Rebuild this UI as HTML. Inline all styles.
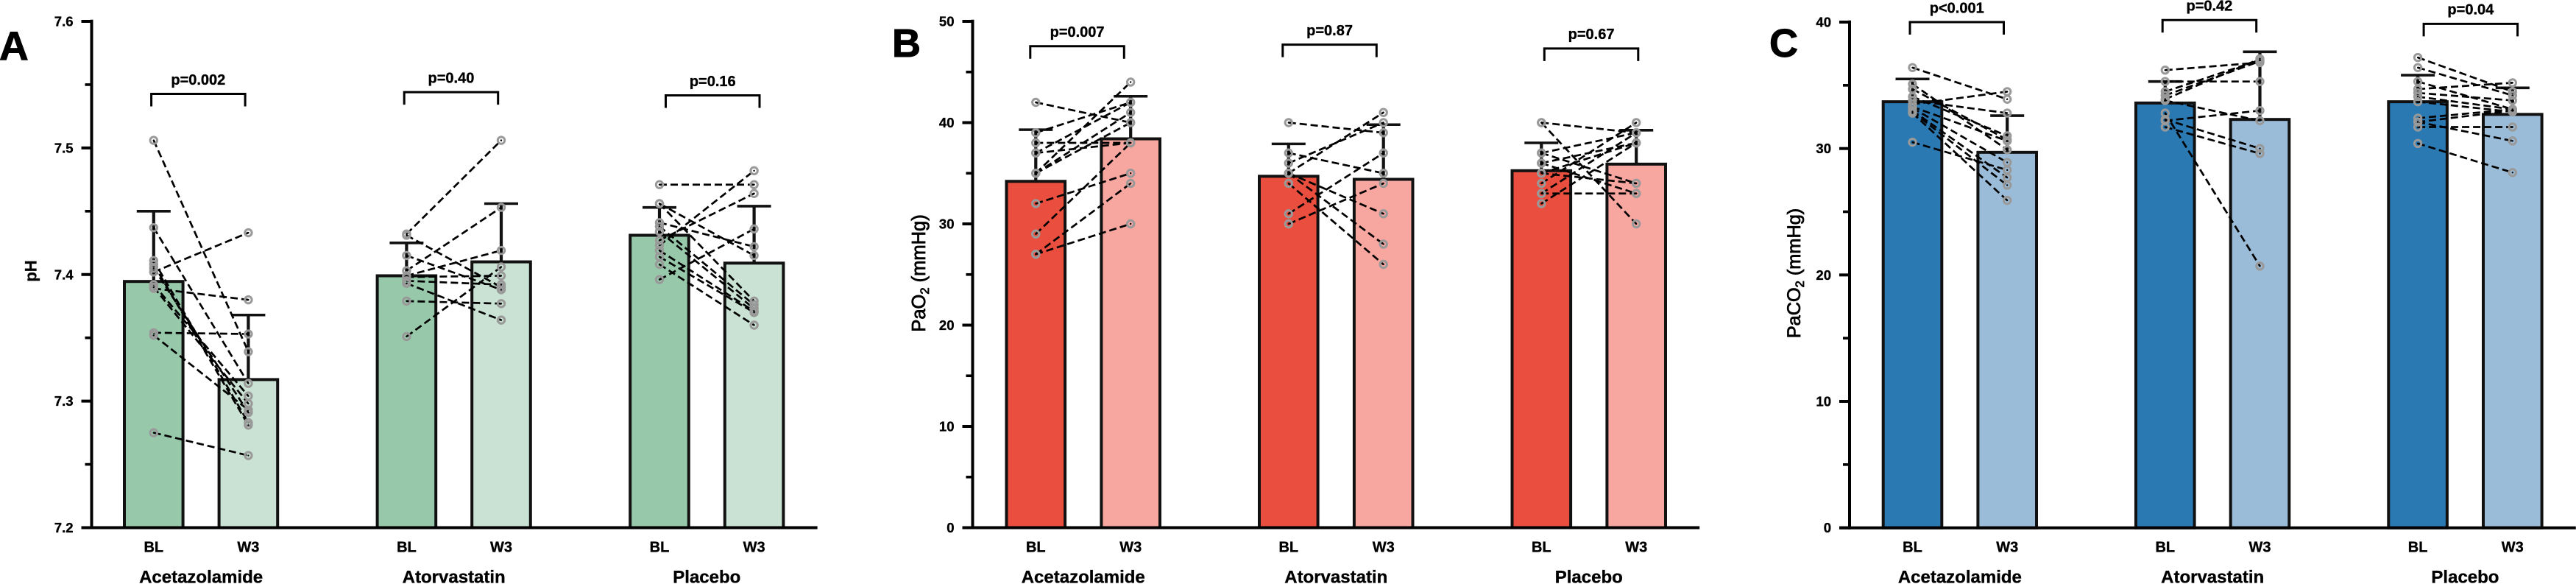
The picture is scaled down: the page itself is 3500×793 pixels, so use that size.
<!DOCTYPE html>
<html lang="en">
<head>
<meta charset="utf-8">
<title>pH, PaO2 and PaCO2 by treatment group</title>
<style>
html,body{margin:0;padding:0;background:#fff;}
body{width:3500px;height:793px;overflow:hidden;}
svg{display:block;font-family:"Liberation Sans",Arial,sans-serif;}
</style>
</head>
<body>
<svg id="figure" width="3500" height="793" viewBox="0 0 3500 793" xmlns="http://www.w3.org/2000/svg">
  <rect width="3500" height="793" fill="#fff"/>
  <text x="-1" y="81" font-size="55" font-weight="700" stroke="#000" stroke-width="1">A</text>
  <text x="1212" y="77" font-size="54" font-weight="700" stroke="#000" stroke-width="1">B</text>
  <text x="2404" y="77" font-size="54" font-weight="700" stroke="#000" stroke-width="1">C</text>
  <text transform="translate(49.5 368) rotate(-90)" text-anchor="middle" font-size="22" font-weight="700" stroke="#000" stroke-width="0.3">pH</text>
  <text transform="translate(1257 371) rotate(-90)" text-anchor="middle" font-size="25.5" stroke="#000" stroke-width="0.8">PaO<tspan font-size="16.5" dy="5">2</tspan><tspan dy="-5"> (mmHg)</tspan></text>
  <text transform="translate(2446 371) rotate(-90)" text-anchor="middle" font-size="25.3" stroke="#000" stroke-width="0.8">PaCO<tspan font-size="16.5" dy="5">2</tspan><tspan dy="-5"> (mmHg)</tspan></text>
</svg>
<script>
// ---------- shared categories ----------
const categories = ['Acetazolamide', 'Atorvastatin', 'Placebo'];
const timepoints = ['BL', 'W3'];

// ---------- Panel A: pH ----------
const phMajorTicks = [7.2, 7.3, 7.4, 7.5, 7.6];
const phMinorTicks = [7.25, 7.35, 7.45, 7.55];
const phMeansBL = [7.3945, 7.399, 7.431];
const phMeansW3 = [7.317, 7.41, 7.409];
const phSdBL = [0.0555, 0.026, 0.022];
const phSdW3 = [0.051, 0.046, 0.045];
const phPValues = ['p=0.002', 'p=0.40', 'p=0.16'];
const phBracketLevels = [7.5427, 7.5441, 7.5415];
const phAcetBL = [7.506, 7.437, 7.402, 7.389, 7.354, 7.352, 7.275, 7.411, 7.408, 7.405, 7.392, 7.390];
const phAcetW3 = [7.339, 7.314, 7.433, 7.380, 7.353, 7.293, 7.257, 7.283, 7.281, 7.291, 7.304, 7.298];
const phAtorBL = [7.432, 7.431, 7.415, 7.403, 7.399, 7.398, 7.395, 7.393, 7.379, 7.351];
const phAtorW3 = [7.506, 7.390, 7.388, 7.453, 7.419, 7.399, 7.392, 7.364, 7.377, 7.406];
const phPlacBL = [7.471, 7.396, 7.423, 7.427, 7.456, 7.441, 7.456, 7.438, 7.434, 7.419, 7.414, 7.408];
const phPlacW3 = [7.471, 7.436, 7.482, 7.464, 7.415, 7.422, 7.379, 7.376, 7.373, 7.371, 7.370, 7.360];

// ---------- Panel B: PaO2 ----------
const paoMajorTicks = [0, 10, 20, 30, 40, 50];
const paoMinorTicks = [5, 15, 25, 35, 45];
const paoMeansBL = [34.2, 34.7, 35.25];
const paoMeansW3 = [38.4, 34.4, 35.9];
const paoSdBL = [5.1, 3.2, 2.75];
const paoSdW3 = [4.2, 5.4, 3.35];
const paoPValues = ['p=0.007', 'p=0.87', 'p=0.67'];
const paoBracketLevels = [47.55, 47.7, 47.32];
const paoAcetBL = [42, 39, 38, 37, 37, 35, 35, 35, 32, 29, 27, 27];
const paoAcetW3 = [40, 42, 38, 42, 38, 44, 41, 40, 35, 38, 34, 30];
const paoAtorBL = [40, 37, 36, 35, 35, 35, 34, 31, 30];
const paoAtorW3 = [39, 35, 40, 41, 31, 28, 26, 37, 34];
const paoPlacBL = [40, 40, 37, 37, 36, 36, 35, 35, 34, 33, 33, 32];
const paoPlacW3 = [39, 30, 34, 39, 33, 38, 38, 34, 40, 39, 33, 38];

// ---------- Panel C: PaCO2 ----------
const pacoMajorTicks = [0, 10, 20, 30, 40];
const pacoMinorTicks = [5, 15, 25, 35];
const pacoMeansBL = [33.7, 33.6, 33.7];
const pacoMeansW3 = [29.7, 32.3, 32.7];
const pacoSdBL = [1.8, 1.7, 2.1];
const pacoSdW3 = [2.9, 5.35, 2.1];
const pacoPValues = ['p<0.001', 'p=0.42', 'p=0.04'];
const pacoBracketLevels = [40, 40.16, 39.86];
const pacoAcetBL = [36.4, 35.1, 34.7, 34.1, 33.8, 33.5, 33.3, 33.2, 33.0, 32.9, 32.8, 30.5];
const pacoAcetW3 = [33.9, 29.9, 30.7, 31.0, 32.8, 34.5, 30.6, 28.9, 27.7, 27.1, 25.9, 28.3];
const pacoAtorBL = [36.2, 35.3, 34.5, 34.2, 33.9, 33.8, 32.8, 32.3, 32.2, 31.7];
const pacoAtorW3 = [36.8, 35.3, 37.0, 36.9, 37.1, 32.2, 20.7, 30.0, 33.0, 29.6];
const pacoPlacBL = [37.2, 36.4, 35.3, 34.7, 34.4, 34.1, 33.7, 32.4, 32.1, 31.7, 32.1, 30.4];
const pacoPlacW3 = [34.5, 34.2, 33.1, 35.2, 33.8, 33.1, 32.9, 33.1, 33.0, 31.7, 30.6, 28.1];

const SVG_NS = 'http://www.w3.org/2000/svg';
const figure = document.getElementById('figure');

function create(parent, tag, attrs, text) {
  const el = document.createElementNS(SVG_NS, tag);
  for (const key in attrs) el.setAttribute(key, attrs[key]);
  if (text !== undefined) el.textContent = text;
  parent.appendChild(el);
  return el;
}

function drawPanel(cfg) {
  const yScale = function (v) {
    return cfg.plotBottom - (v - cfg.domainMin) / (cfg.domainMax - cfg.domainMin) * (cfg.plotBottom - cfg.plotTop);
  };
  const xScale = function (group, time) {
    return cfg.firstColumn + group * cfg.groupStep + time * cfg.pairStep;
  };
  const axisEnd = xScale(categories.length - 1, 1) + 86;

  const panel = create(figure, 'g', {});
  
  

  // bars
  categories.forEach(function (cat, g) {
    timepoints.forEach(function (tp, t) {
      const mean = (t === 0 ? cfg.meansBL : cfg.meansW3)[g];
      const cx = xScale(g, t);
      const top = yScale(mean);
      const bar = create(panel, 'rect', {
        x: cx - 39.8, y: top, width: 79.6, height: cfg.plotBottom - top,
        fill: t === 0 ? cfg.dark : cfg.light, stroke: '#111', 'stroke-width': 4
      });
      
      
    });
  });

  // axes
  const yAxis = create(panel, 'line', {
    x1: cfg.axisX, x2: cfg.axisX, y1: cfg.plotTop - 2.2, y2: cfg.plotBottom + 2, stroke: '#000', 'stroke-width': 4
  });
  
  
  const xAxis = create(panel, 'line', {
    x1: cfg.axisX - 14, x2: axisEnd, y1: cfg.plotBottom, y2: cfg.plotBottom, stroke: '#000', 'stroke-width': 4
  });
  
  

  cfg.majorTicks.forEach(function (v) {
    const y = yScale(v);
    const tick = create(panel, 'line', {
      x1: cfg.axisX - 14, x2: cfg.axisX, y1: y, y2: y, stroke: '#000', 'stroke-width': 4
    });
    
    
    const label = create(panel, 'text', {
      x: cfg.axisX - 25, y: y + 6.5, 'text-anchor': 'end', 'font-size': 18.5, 'font-weight': 700,
      stroke: '#000', 'stroke-width': 0.35
    }, v.toFixed(cfg.decimals));
    
    
  });
  cfg.minorTicks.forEach(function (v) {
    const y = yScale(v);
    const tick = create(panel, 'line', {
      x1: cfg.axisX - 9, x2: cfg.axisX, y1: y, y2: y, stroke: '#000', 'stroke-width': 3.6
    });
    
    
  });

  // error bars
  categories.forEach(function (cat, g) {
    timepoints.forEach(function (tp, t) {
      const mean = (t === 0 ? cfg.meansBL : cfg.meansW3)[g];
      const sd = (t === 0 ? cfg.sdBL : cfg.sdW3)[g];
      const cx = xScale(g, t);
      const stem = create(panel, 'line', {
        x1: cx, x2: cx, y1: yScale(mean), y2: yScale(mean + sd), stroke: '#111', 'stroke-width': 4.2
      });
      
      
      const cap = create(panel, 'line', {
        x1: cx - 23, x2: cx + 23, y1: yScale(mean + sd), y2: yScale(mean + sd), stroke: '#111', 'stroke-width': 3.6
      });
      
      
    });
  });

  // paired subject lines, then markers
  categories.forEach(function (cat, g) {
    const bl = cfg.baseline[g];
    const w3 = cfg.week3[g];
    bl.forEach(function (v, i) {
      const link = create(panel, 'line', {
        x1: xScale(g, 0), y1: yScale(v), x2: xScale(g, 1), y2: yScale(w3[i]),
        stroke: '#000', 'stroke-width': 2.7, 'stroke-dasharray': '10 5'
      });
      
      
    });
    [bl, w3].forEach(function (series, t) {
      series.forEach(function (v) {
        const ring = create(panel, 'circle', {
          cx: xScale(g, t), cy: yScale(v), r: 4.7, fill: 'none', stroke: '#999', 'stroke-width': 3
        });
        
        
        const dot = create(panel, 'circle', {
          cx: xScale(g, t), cy: yScale(v), r: 1.2, fill: '#000'
        });
        
        
      });
    });
  });

  // x labels, group labels, brackets
  categories.forEach(function (cat, g) {
    timepoints.forEach(function (tp, t) {
      const tickLabel = create(panel, 'text', {
        x: xScale(g, t), y: 749.5, 'text-anchor': 'middle', 'font-size': 20, 'font-weight': 700,
        stroke: '#000', 'stroke-width': 0.35
      }, tp);
      
      
    });
    const mid = (xScale(g, 0) + xScale(g, 1)) / 2;
    const groupLabel = create(panel, 'text', {
      x: mid, y: 791.5, 'text-anchor': 'middle', 'font-size': 24, 'font-weight': 700,
      stroke: '#000', 'stroke-width': 0.35
    }, cat);
    
    

    const left = xScale(g, 0) + cfg.bracketShift[g];
    const right = left + 127.5;
    const top = yScale(cfg.bracketLevels[g]);
    const bracket = create(panel, 'path', {
      d: 'M' + left + ' ' + (top + 17) + 'V' + top + 'H' + right + 'V' + (top + 17),
      fill: 'none', stroke: '#000', 'stroke-width': 3
    });
    
    
    const pLabel = create(panel, 'text', {
      x: (left + right) / 2, y: top - 12.7, 'text-anchor': 'middle', 'font-size': 20, 'font-weight': 700,
      stroke: '#000', 'stroke-width': 0.35
    }, cfg.pValues[g]);
    
    
  });
}

drawPanel({
  key: 'ph', domainMin: 7.2, domainMax: 7.6, decimals: 1,
  plotTop: 29, plotBottom: 716.5, axisX: 124.5,
  firstColumn: 208.8, groupStep: 343.6, pairStep: 128.6,
  dark: '#97c8a9', light: '#c9e2d3',
  majorTicks: phMajorTicks, minorTicks: phMinorTicks,
  meansBL: phMeansBL, meansW3: phMeansW3, sdBL: phSdBL, sdW3: phSdW3,
  pValues: phPValues, bracketLevels: phBracketLevels, bracketShift: [-3.2, -3.2, 8.5],
  baseline: [phAcetBL, phAtorBL, phPlacBL], week3: [phAcetW3, phAtorW3, phPlacW3]
});
drawPanel({
  key: 'pao2', domainMin: 0, domainMax: 50, decimals: 0,
  plotTop: 29, plotBottom: 716.5, axisX: 1321.5,
  firstColumn: 1407.3, groupStep: 343.5, pairStep: 128.9,
  dark: '#e94e3e', light: '#f7a6a0',
  majorTicks: paoMajorTicks, minorTicks: paoMinorTicks,
  meansBL: paoMeansBL, meansW3: paoMeansW3, sdBL: paoSdBL, sdW3: paoSdW3,
  pValues: paoPValues, bracketLevels: paoBracketLevels, bracketShift: [-7.5, -8, 4],
  baseline: [paoAcetBL, paoAtorBL, paoPlacBL], week3: [paoAcetW3, paoAtorW3, paoPlacW3]
});
drawPanel({
  key: 'paco2', domainMin: 0, domainMax: 40, decimals: 0,
  plotTop: 30, plotBottom: 716.7, axisX: 2513,
  firstColumn: 2598.5, groupStep: 343.3, pairStep: 128.7,
  dark: '#2b79b2', light: '#9abcd8',
  majorTicks: pacoMajorTicks, minorTicks: pacoMinorTicks,
  meansBL: pacoMeansBL, meansW3: pacoMeansW3, sdBL: pacoSdBL, sdW3: pacoSdW3,
  pValues: pacoPValues, bracketLevels: pacoBracketLevels, bracketShift: [-3.5, -3.6, 8],
  baseline: [pacoAcetBL, pacoAtorBL, pacoPlacBL], week3: [pacoAcetW3, pacoAtorW3, pacoPlacW3]
});
</script>
</body>
</html>
